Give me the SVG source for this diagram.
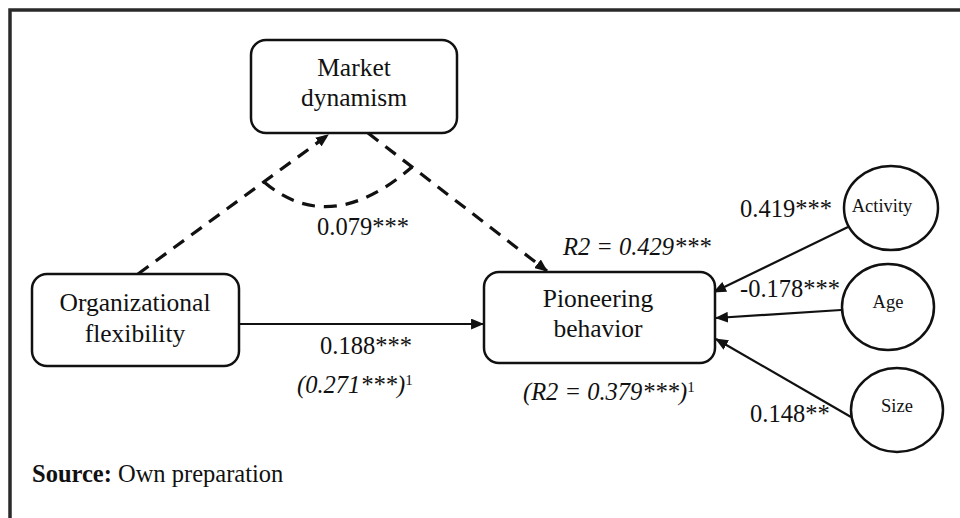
<svg xmlns="http://www.w3.org/2000/svg" width="960" height="518" viewBox="0 0 960 518">
<style>
.box{fill:#fff;stroke:#111;stroke-width:2.5}
.ell{fill:#fff;stroke:#111;stroke-width:2.5}
.t{font-family:"Liberation Serif","Times New Roman",serif;font-size:24.5px;fill:#111}
.n{font-size:25.5px}
.tc{text-anchor:middle}
.s{font-size:18.5px}
.i{font-style:italic}
.solid{fill:none;stroke:#111;stroke-width:2.2}
.dash{fill:none;stroke:#111;stroke-width:3.2;stroke-dasharray:13 9}
</style>
<defs>
<marker id="ah" viewBox="0 0 12 10" refX="11" refY="5" markerWidth="13" markerHeight="11" markerUnits="userSpaceOnUse" orient="auto">
<path d="M0,0 L12,5 L0,10 z" fill="#111"/>
</marker>
</defs>
<rect width="960" height="518" fill="#fff"/>
<path d="M10,518 V10 H960" fill="none" stroke="#2a2a2a" stroke-width="3.5"/>
<g id="connectors">
<line class="solid" x1="239" y1="324" x2="483" y2="324" marker-end="url(#ah)"/>
<line class="dash" x1="138" y1="274" x2="328" y2="135" marker-end="url(#ah)"/>
<line class="dash" x1="368" y1="133" x2="547" y2="271" marker-end="url(#ah)"/>
<path class="dash" d="M264,182 Q330,238 412,167"/>
<line class="solid" x1="848" y1="227" x2="714" y2="292" marker-end="url(#ah)"/>
<line class="solid" x1="841" y1="310" x2="716" y2="318" marker-end="url(#ah)"/>
<line class="solid" x1="851" y1="417" x2="716" y2="339" marker-end="url(#ah)"/>
</g>
<g id="market">
<rect class="box" x="251" y="40" width="206" height="93" rx="15"/>
<text class="t n tc" x="354" y="76">Market</text>
<text class="t n tc" x="354" y="106">dynamism</text>
</g>
<g id="orgflex">
<rect class="box" x="32" y="274" width="207" height="92" rx="15"/>
<text class="t n tc" x="135" y="311">Organizational</text>
<text class="t n tc" x="135" y="342">flexibility</text>
</g>
<g id="pioneering">
<rect class="box" x="484" y="272" width="231" height="91" rx="15"/>
<text class="t n tc" x="598" y="307">Pioneering</text>
<text class="t n tc" x="598" y="337">behavior</text>
</g>
<g id="activity">
<ellipse class="ell" cx="891" cy="208" rx="47" ry="42"/>
<text class="t tc s" x="882" y="212">Activity</text>
</g>
<g id="age">
<ellipse class="ell" cx="888" cy="307" rx="46" ry="43"/>
<text class="t tc s" x="888" y="308">Age</text>
</g>
<g id="size">
<ellipse class="ell" cx="897" cy="410" rx="46" ry="42"/>
<text class="t tc s" x="897" y="412">Size</text>
</g>
<g id="labels">
<text class="t" x="317" y="235">0.079***</text>
<text class="t tc" x="366" y="354">0.188***</text>
<text class="t i" x="297" y="393">(0.271***)<tspan font-style="normal" font-size="15" dy="-8">1</tspan></text>
<text class="t i" x="563" y="255">R2 = 0.429***</text>
<text class="t i" x="523" y="400">(R2 = 0.379***)<tspan font-style="normal" font-size="15" dy="-8">1</tspan></text>
<text class="t" x="740" y="217">0.419***</text>
<text class="t" x="740" y="297">-0.178***</text>
<text class="t" x="750" y="422">0.148**</text>
<text class="t" x="32" y="482"><tspan font-weight="bold">Source:</tspan> Own preparation</text>
</g>
</svg>
